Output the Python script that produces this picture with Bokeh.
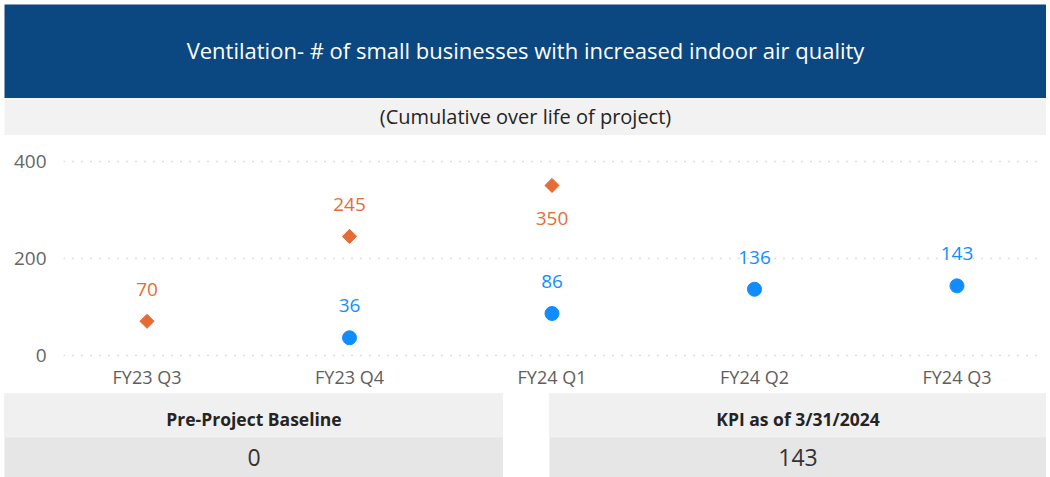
from bokeh.plotting import figure
from bokeh.models import (ColumnDataSource, FactorRange, Range1d, FixedTicker,
                          Spacer)
from bokeh.layouts import column, row
from bokeh.core.properties import value
from bokeh.embed import file_html
from bokeh.resources import INLINE
import numpy as np

# ---------------- data ----------------
title_text = "Ventilation- # of small businesses with increased indoor air quality"
subtitle_text = "(Cumulative over life of project)"
categories = ["FY23 Q3", "FY23 Q4", "FY24 Q1", "FY24 Q2", "FY24 Q3"]
target_cats = ["FY23 Q3", "FY23 Q4", "FY24 Q1"]
target_vals = [70, 245, 350]
actual_cats = ["FY23 Q4", "FY24 Q1", "FY24 Q2", "FY24 Q3"]
actual_vals = [36, 86, 136, 143]
y_ticks = [0, 200, 400]
baseline_label = "Pre-Project Baseline"
baseline_value = "0"
kpi_label = "KPI as of 3/31/2024"
kpi_value = "143"

FONT = "Open Sans"
BANNER = "#0B4780"
ORANGE = "#E66C37"
BLUE = "#118DFF"
W = 1042


def blank(width, height, bg):
    f = figure(width=width, height=height, x_range=Range1d(0, 1),
               y_range=Range1d(0, height), toolbar_location=None,
               output_backend="svg", min_border=0)
    f.axis.visible = False
    f.grid.visible = False
    f.outline_line_color = None
    f.background_fill_color = bg
    f.border_fill_color = bg
    return f


# ---------------- banner ----------------
banner = blank(W, 94, BANNER)
banner.text(x=[0.5], y=[48.5], text=[title_text], text_align="center",
            text_baseline="middle", text_color="white",
            text_font=value(FONT), text_font_size="22px")

sub = blank(W, 37, "#F2F2F2")
sub.text(x=[0.5], y=[19.5], text=[subtitle_text], text_align="center",
         text_baseline="middle", text_color="#252423",
         text_font=value(FONT), text_font_size="20px")

# ---------------- chart ----------------
ymax_frame = 432.4
p = figure(width=W, height=258, toolbar_location=None, output_backend="svg",
           x_range=FactorRange(factors=categories, range_padding=-0.035),
           y_range=Range1d(-15, ymax_frame),
           min_border_left=59, min_border_right=6, min_border_top=10,
           min_border_bottom=31)
p.outline_line_color = None
p.background_fill_color = "white"
p.border_fill_color = "white"
p.xgrid.visible = False
p.ygrid.ticker = FixedTicker(ticks=y_ticks)
p.ygrid.grid_line_color = "#BDBDBD"
p.ygrid.grid_line_dash = "1 8"
p.ygrid.grid_line_width = 1.5
p.yaxis.ticker = FixedTicker(ticks=y_ticks)
for ax in (p.xaxis[0], p.yaxis[0]):
    ax.axis_line_color = None
    ax.major_tick_line_color = None
    ax.minor_tick_line_color = None
    ax.major_label_text_font = FONT
p.yaxis.major_label_text_font_size = "19px"
p.yaxis.major_label_text_color = "#666666"
p.yaxis.major_label_standoff = 11
p.xaxis.major_label_text_font_size = "18px"
p.xaxis.major_label_text_color = "#605E5C"
p.xaxis.major_label_standoff = -4

t_src = ColumnDataSource(dict(
    x=target_cats, y=target_vals, lbl=[str(v) for v in target_vals],
    yoff=[33 if v > 0.75 * ymax_frame else -32 for v in target_vals]))
a_src = ColumnDataSource(dict(
    x=actual_cats, y=actual_vals, lbl=[str(v) for v in actual_vals],
    yoff=[33 if v > 0.75 * ymax_frame else -32 for v in actual_vals]))

p.scatter(x="x", y="y", source=t_src, marker="square", angle=np.pi / 4,
          size=10, fill_color=ORANGE, line_color=ORANGE)
p.scatter(x="x", y="y", source=a_src, marker="circle", size=14,
          fill_color=BLUE, line_color=BLUE)
p.text(x="x", y="y", text="lbl", source=t_src, y_offset="yoff",
       text_align="center", text_baseline="middle", text_color=ORANGE,
       text_font=value(FONT), text_font_size="19px")
p.text(x="x", y="y", text="lbl", source=a_src, y_offset="yoff",
       text_align="center", text_baseline="middle", text_color=BLUE,
       text_font=value(FONT), text_font_size="19px")


# ---------------- KPI boxes ----------------
def kpi_box(width, label, val):
    f = blank(width, 84, "#E6E6E6")
    f.quad(left=[0], right=[1], bottom=[40], top=[84], fill_color="#F0F0F0",
           line_color=None)
    f.text(x=[0.5], y=[59], text=[label], text_align="center",
           text_baseline="middle", text_color="#252423",
           text_font=value(FONT), text_font_size="17.5px",
           text_font_style="bold")
    f.text(x=[0.5], y=[20], text=[val], text_align="center",
           text_baseline="middle", text_color="#333333",
           text_font=value(FONT), text_font_size="23px")
    return f


left_box = kpi_box(499, baseline_label, baseline_value)
right_box = kpi_box(497, kpi_label, kpi_value)
bottom = row(left_box, Spacer(width=46, height=84), right_box, spacing=0)

inner = column(Spacer(width=W, height=4), row(banner), row(sub), row(p),
               bottom, spacing=0)
layout = row(Spacer(width=4, height=477), inner, spacing=0)

open("out.html", "w").write(file_html(layout, INLINE))
